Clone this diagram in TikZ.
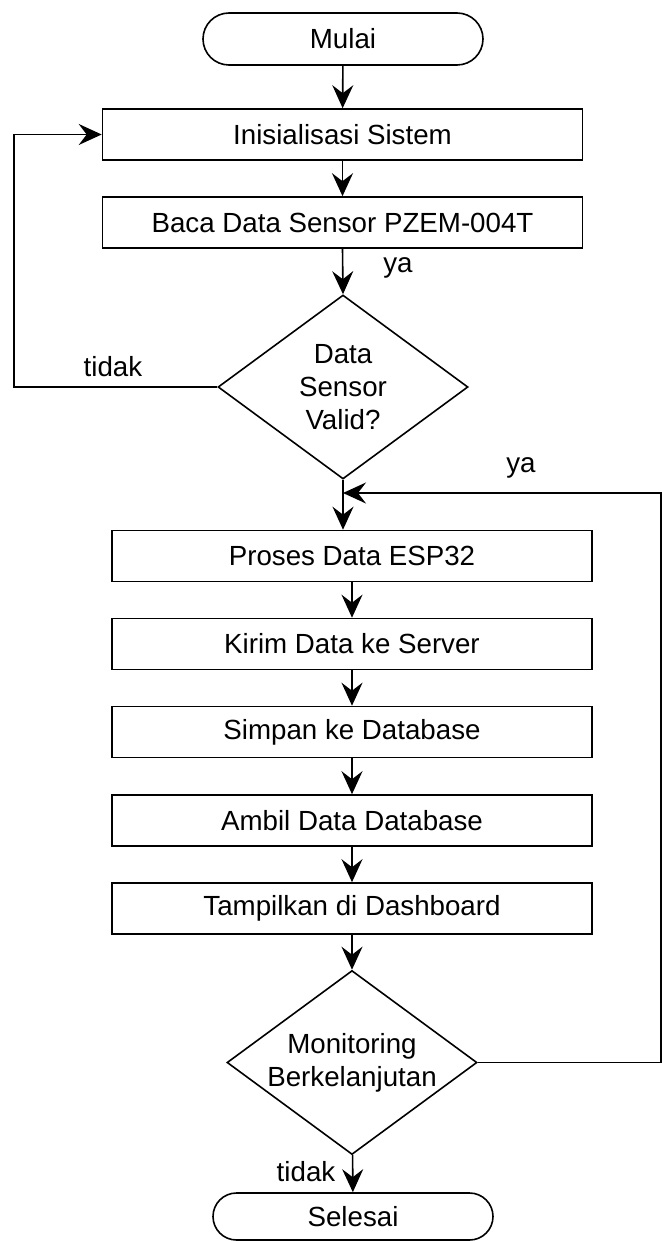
\documentclass[tikz,border=0pt]{standalone}
\usepackage{fontspec}
\setmainfont{Liberation Sans}
\usepackage{tikz}
\usetikzlibrary{shapes,arrows.meta}
\usetikzlibrary{positioning}
\usetikzlibrary{calc}

\begin{document}
\begin{tikzpicture}[x=0.5pt,y=-0.5pt,line width=0.8pt,
   every node/.style={font=\fontsize{13.85}{16.5}\selectfont},
   proses/.style={draw,rectangle,minimum width=240pt,minimum height=25.5pt,inner sep=0pt},
   terminal/.style={draw,rounded rectangle,minimum width=140pt,minimum height=26pt,inner sep=0pt},
   keputusan/.style={draw,diamond,align=center,shape aspect=1.36,inner sep=0pt,minimum width=125pt,minimum height=92pt},
   panah/.style={-{Stealth[length=11.5pt,width=10.5pt,inset=4pt]}}]
       \useasboundingbox (0,0) rectangle (662,1241);
       \node[terminal] (mulai) at (343,39) {Mulai};
       \node[proses] (init) at (342.5,134.5) {Inisialisasi Sistem};
       \node[proses] (baca) at (342.5,222.5) {Baca Data Sensor PZEM-004T};
       \node[keputusan] (valid) at (343,387) {Data\\Sensor\\Valid?};
       \node[proses] (esp) at (352,556) {Proses Data ESP32};
       \node[proses] (kirim) at (352,644) {Kirim Data ke Server};
       \node[proses] (simpan) at (352,732) {Simpan ke Database};
       \node[proses] (ambil) at (352,820.5) {Ambil Data Database};
       \node[proses] (tampil) at (352,908.5) {Tampilkan di Dashboard};
       \node[keputusan] (monitor) at (352,1062.5) {Monitoring\\Berkelanjutan};
       \node[terminal,minimum height=23.5pt] (selesai) at (353,1216.5) {Selesai};
       %\node at (343,300) {};
       \coordinate (kiri) at (14,0);
       \coordinate (kanan) at (661,0);
       \coordinate (gabung) at (343,493);
       \draw[panah] (mulai) -- (init);
       \draw[panah] (init) -- (baca);
       \draw[panah] (baca.south) -- (valid.north);
       \draw[panah] (valid.west) -- (valid.west -| kiri) |- (init.west);
       \draw (valid.south) -- (gabung);
       \draw[panah] (gabung) -- (gabung |- esp.north);
       \draw[panah] (monitor.east) -- (monitor.east -| kanan) |- (gabung);
       \draw[panah] (esp) -- (kirim);
       \draw[panah] (kirim) -- (simpan);
       \draw[panah] (simpan) -- (ambil);
       \draw[panah] (ambil) -- (tampil);
       \draw[panah] (tampil) -- (monitor);
       \draw[panah] (monitor) -- (selesai);
       \node (ya1) at (398,268) {ya};
       \node (tidak1) at (113,367) {tidak};
       \node (ya2) at (521,468) {ya};
       \node (tidak2) at (306,1172) {tidak};
\end{tikzpicture}
\end{document}
